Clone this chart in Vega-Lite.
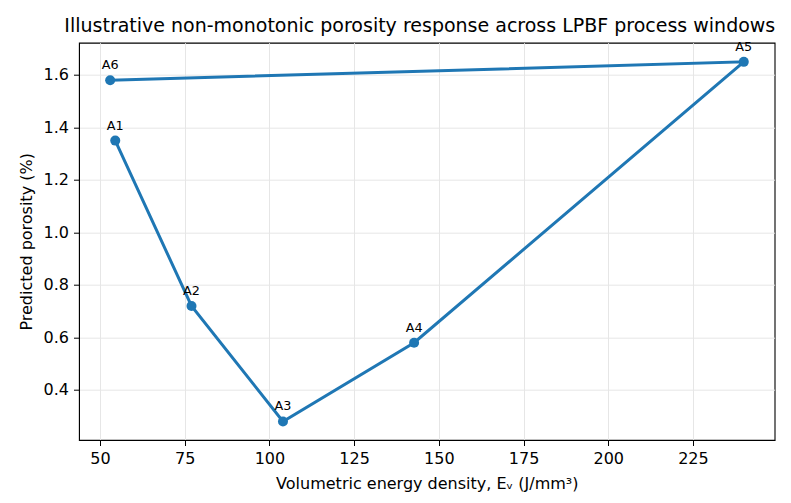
{
  "$schema": "https://vega.github.io/schema/vega-lite/v6.json",
  "width": 695.6,
  "height": 397.3,
  "autosize": {"type": "none"},
  "padding": {"left": 79, "top": 42.7, "right": 16.4, "bottom": 63},
  "background": "white",
  "title": {
    "text": "Illustrative non-monotonic porosity response across LPBF process windows",
    "font": "DejaVu Sans",
    "fontSize": 19,
    "fontWeight": "normal",
    "color": "black",
    "anchor": "middle",
    "offset": 5,
    "dx": -7
  },
  "data": {
    "values": [
      {"idx": 1, "label": "A1", "ev": 54.5, "porosity": 1.35},
      {"idx": 2, "label": "A2", "ev": 77, "porosity": 0.72},
      {"idx": 3, "label": "A3", "ev": 104, "porosity": 0.28},
      {"idx": 4, "label": "A4", "ev": 142.7, "porosity": 0.58},
      {"idx": 5, "label": "A5", "ev": 240, "porosity": 1.65},
      {"idx": 6, "label": "A6", "ev": 53, "porosity": 1.58}
    ]
  },
  "encoding": {
    "x": {
      "field": "ev",
      "type": "quantitative",
      "scale": {"domain": [43.8, 249.1], "nice": false, "zero": false},
      "axis": {
        "title": "Volumetric energy density, Eᵥ (J/mm³)",
        "values": [50, 75, 100, 125, 150, 175, 200, 225],
        "format": "d"
      }
    },
    "y": {
      "field": "porosity",
      "type": "quantitative",
      "scale": {"domain": [0.2095, 1.723], "nice": false, "zero": false},
      "axis": {
        "title": "Predicted porosity (%)",
        "values": [0.4, 0.6, 0.8, 1.0, 1.2, 1.4, 1.6],
        "format": ".1f"
      }
    }
  },
  "layer": [
    {
      "mark": {"type": "line", "color": "#1f77b4", "strokeWidth": 3},
      "encoding": {"order": {"field": "idx", "type": "quantitative"}}
    },
    {
      "mark": {"type": "point", "filled": true, "opacity": 1, "color": "#1f77b4", "size": 100, "shape": "circle"}
    },
    {
      "mark": {"type": "text", "font": "DejaVu Sans", "fontSize": 12.8, "color": "black", "align": "center", "baseline": "alphabetic", "dy": -11},
      "encoding": {"text": {"field": "label", "type": "nominal"}}
    }
  ],
  "config": {
    "view": {"stroke": "black", "strokeWidth": 1.1},
    "axis": {
      "labelFont": "DejaVu Sans",
      "titleFont": "DejaVu Sans",
      "labelFontSize": 16,
      "titleFontSize": 16,
      "titleFontWeight": "normal",
      "labelColor": "black",
      "titleColor": "black",
      "domainColor": "black",
      "tickColor": "black",
      "tickSize": 5.5,
      "tickWidth": 1,
      "labelPadding": 5,
      "grid": true,
      "gridColor": "#e6e6e6",
      "gridWidth": 1
    },
    "axisX": {"titlePadding": 9},
    "axisY": {"titlePadding": 9}
  }
}
